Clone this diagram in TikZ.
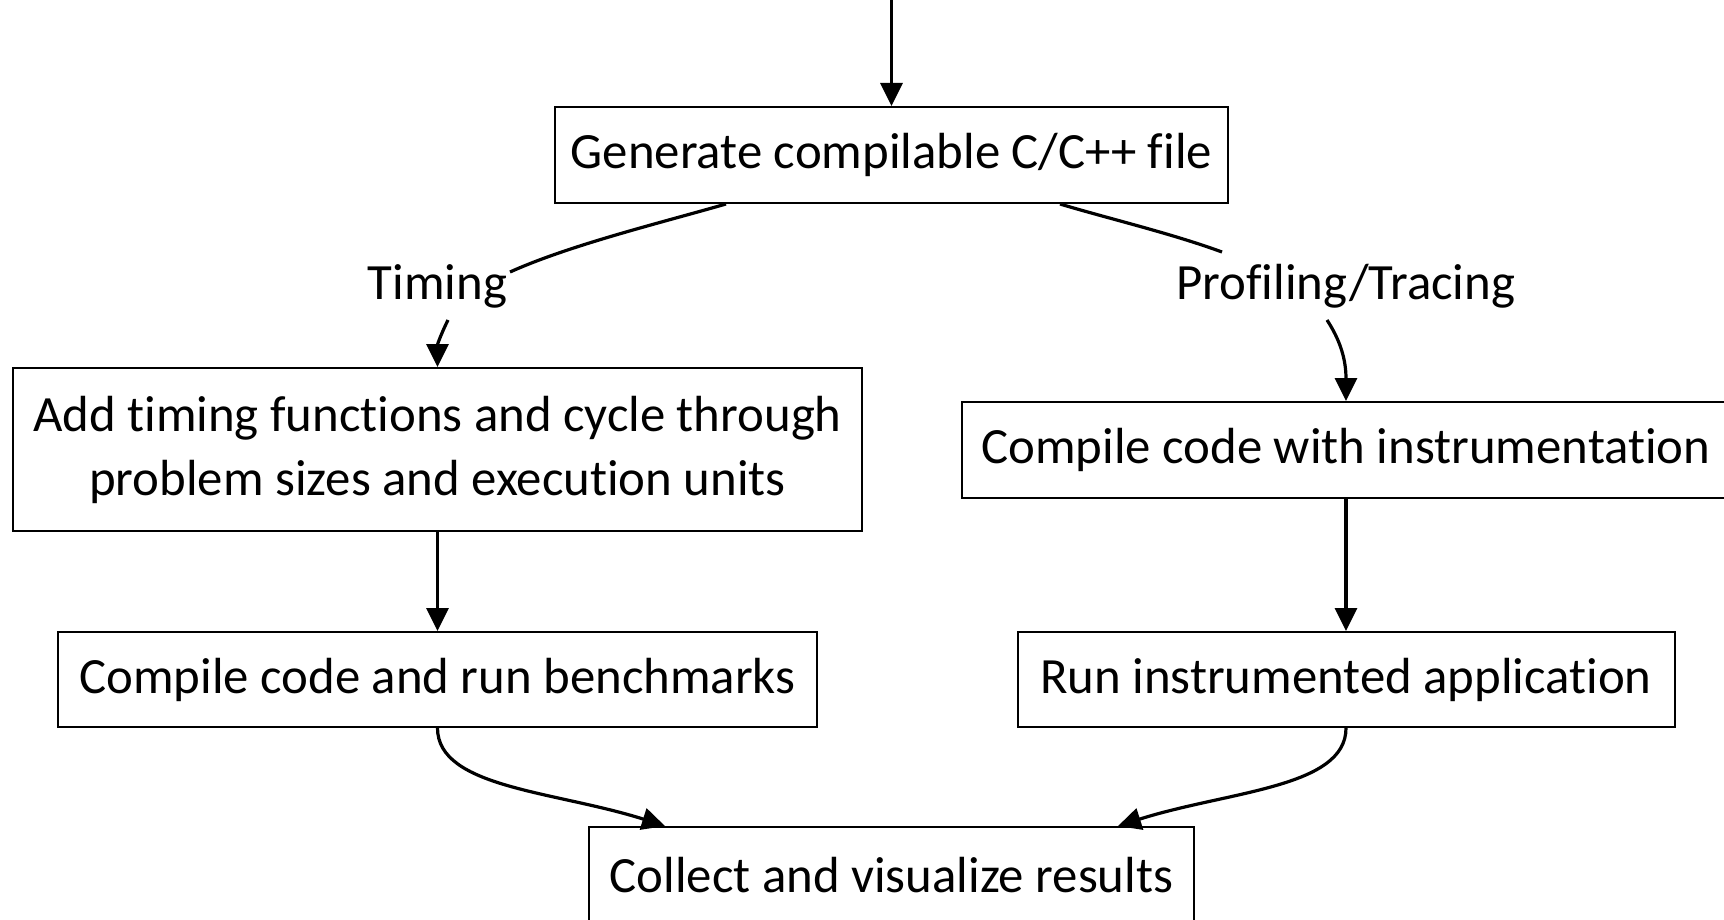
\documentclass[tikz,border=0pt]{standalone}
\usepackage{fontspec}
\setmainfont{Carlito}[RawFeature=-liga]
\usetikzlibrary{arrows.meta,calc}
\begin{document}
\begin{tikzpicture}[x=1pt,y=-1pt,
  box/.style={draw=black,line width=2pt,inner sep=0pt,align=center,
    font=\fontsize{50.8}{64}\selectfont},
  lbl/.style={inner sep=0pt,font=\fontsize{50.8}{64}\selectfont},
  edge/.style={line width=3.2pt,draw=black},
  arr/.style={edge,-{Triangle[length=23pt,width=22pt]}}]
\fill[white] (0,0) rectangle (1724,920);
\useasboundingbox (0,0) rectangle (1724,920);
\begin{scope}
\clip (0,0) rectangle (1724,920);
\node[box,minimum width=673pt,minimum height=96pt] (g) at (891.5,155) {Generate compilable C/C++ file};
\node[box,minimum width=849pt,minimum height=163pt] (add) at (437.5,449.5) {Add timing functions and cycle through\\problem sizes and execution units};
\node[box,minimum width=768pt,minimum height=96pt] (ins) at (1346,450) {Compile code with instrumentation};
\node[box,minimum width=759pt,minimum height=95pt] (bench) at (437.5,679.5) {Compile code and run benchmarks};
\node[box,minimum width=657pt,minimum height=95pt] (run) at (1346,679.5) {Run instrumented application};
\node[box,minimum width=605pt,minimum height=96pt] (col) at (891.5,875) {Collect and visualize results};
\node[lbl] (tim) at (437.6,286) {Timing};
\node[lbl] (prof) at (1345.8,286) {Profiling/Tracing};
\coordinate (top) at (891.5,0);

\draw[arr] (top) -- (g.north);
\draw[edge] ($(g.south)+(-165.5,0)$) .. controls ($(g.south)+(-231.5,19)$) and ($(tim.center)+(132.4,-41)$) .. ($(tim.center)+(72.4,-14)$);
\draw[arr] ($(tim.center)+(10.4,34)$) .. controls ($(tim.center)+(4.4,46)$) and ($(add.north)+(0,-23)$) .. (add.north);
\draw[edge] ($(g.south)+(168.5,0)$) .. controls ($(g.south)+(218.5,15)$) and ($(prof.center)+(-175.8,-53)$) .. ($(prof.center)+(-123.8,-34)$);
\draw[arr] ($(prof.center)+(-18.8,34)$) .. controls ($(prof.center)+(-5.8,54)$) and ($(ins.north)+(0,-42)$) .. (ins.north);
\draw[arr] (add.south) -- (bench.north);
\draw[arr] (ins.south) -- (run.north);
\draw[arr] (bench.south) .. controls ($(bench.south)+(0,60)$) and ($(col.north)+(-336.5,-35)$) .. ($(col.north)+(-226.5,0)$);
\draw[arr] (run.south) .. controls ($(run.south)+(0,60)$) and ($(col.north)+(336.5,-35)$) .. ($(col.north)+(226.5,0)$);
\end{scope}
\end{tikzpicture}
\end{document}
